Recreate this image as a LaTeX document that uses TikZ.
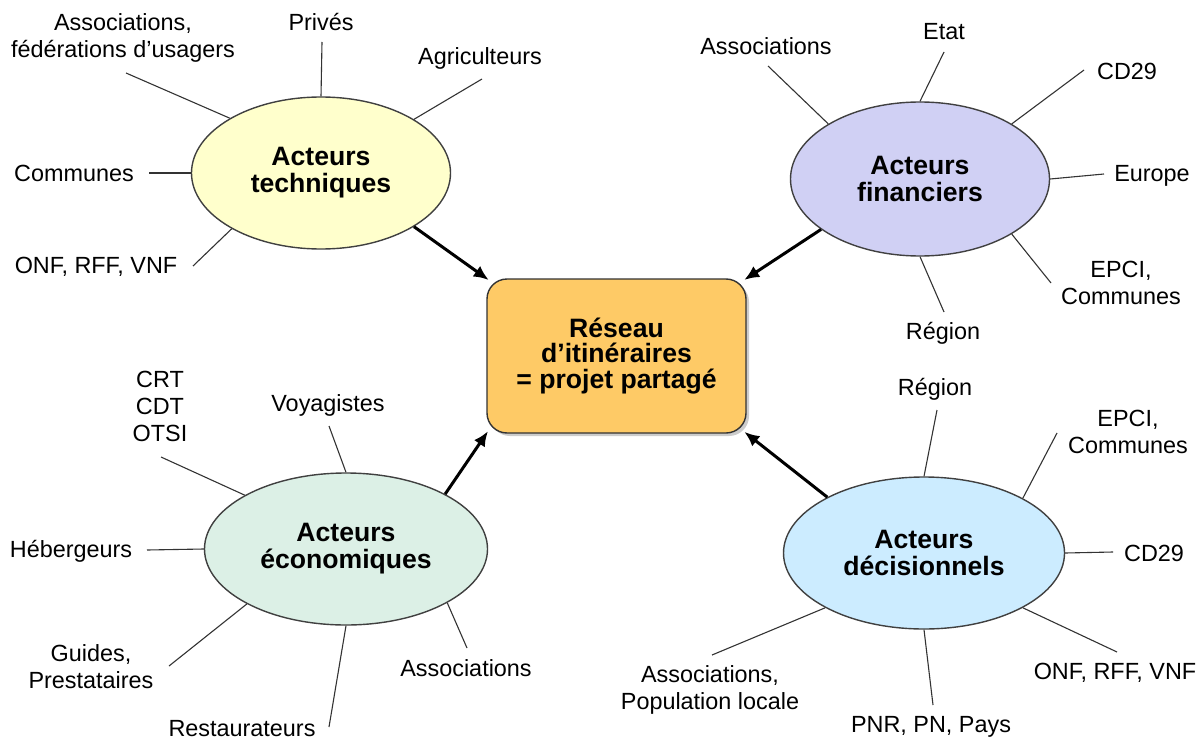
\documentclass[tikz,border=0pt]{standalone}
\usepackage{fontspec}
\setmainfont{Liberation Sans}
\usetikzlibrary{shapes.geometric,shadows,arrows.meta}

\definecolor{techfill}{RGB}{255,255,204}
\definecolor{finfill}{RGB}{208,208,244}
\definecolor{ecofill}{RGB}{220,240,230}
\definecolor{decfill}{RGB}{204,236,255}
\definecolor{boxfill}{RGB}{254,202,102}
\definecolor{linecol}{RGB}{51,51,51}

\tikzset{
  acteur/.style={ellipse, draw=black!75, line width=0.7pt, inner sep=0pt,
    font=\fontsize{13.3}{13.5}\selectfont\bfseries, align=center},
  projet/.style={rectangle, rounded corners=10pt, draw=black!80, line width=0.7pt,
    fill=boxfill, minimum width=129.5pt, minimum height=77pt, align=center,
    font=\fontsize{13.3}{12.8}\selectfont\bfseries,
    drop shadow={shadow xshift=1.5pt, shadow yshift=-1.5pt, fill=black!40}},
  lbl/.style={font=\fontsize{11.7}{13.5}\selectfont, align=center, inner sep=0pt},
  spoke/.style={draw=linecol, line width=0.55pt},
  arr/.style={-{Latex[length=7.5pt,width=6.5pt]}, line width=1.5pt, shorten >=-1.5pt},
}

\begin{document}
\begin{tikzpicture}[x=0.5pt,y=-0.5pt]
  \useasboundingbox (0,0) rectangle (1202,743);
%%
  % Node: reseau
  \node[projet] (reseau) at (616.5,356) {Réseau\\d’itinéraires\\= projet partagé};
  % Node: tech
  \node[acteur, fill=techfill, minimum width=129.5pt, minimum height=76pt] (tech) at (321,173) {Acteurs\\techniques};
  % Node: fin
  \node[acteur, fill=finfill, minimum width=129.5pt, minimum height=77pt] (fin) at (920,179) {Acteurs\\financiers};
  % Node: eco
  \node[acteur, fill=ecofill, minimum width=141.5pt, minimum height=76pt] (eco) at (346,549) {Acteurs\\économiques};
  % Node: dec
  \node[acteur, fill=decfill, minimum width=140.5pt, minimum height=76pt] (dec) at (924,553) {Acteurs\\décisionnels};
%
  % Labels: tech
  \node[lbl] (t-assoc) at (123,38) {Associations,\\fédérations d’usagers};
  \node[lbl] (t-prives) at (321,22) {Privés};
  \node[lbl] (t-agri) at (480,58) {Agriculteurs};
  \node[lbl] (t-comm) at (74,173) {Communes};
  \node[lbl] (t-onf) at (96,267) {ONF, RFF, VNF};
  \coordinate (t1) at (126,73);
  \coordinate (t2) at (322,42);
  \coordinate (t3) at (482,79);
  \coordinate (t4) at (149,173);
  \coordinate (t5) at (193,266);
  % Edge: t -> tech
  \draw[spoke] (t1) -- (tech.149);
  \draw[spoke] (t2) -- (tech.90);
  \draw[spoke] (t3) -- (tech.30);
  \draw[spoke] (t4) -- (tech.180);
  \draw[spoke] (t5) -- (tech.212);
%
  % Labels: fin
  \node[lbl] (f-assoc) at (766,46) {Associations};
  \node[lbl] (f-etat) at (944,32) {Etat};
  \node[lbl] (f-cd) at (1127,71) {CD29};
  \node[lbl] (f-europe) at (1152,176) {Europe};
  \node[lbl] (f-epci) at (1121,283) {EPCI,\\Communes};
  \node[lbl] (f-region) at (943,333) {Région};
  \coordinate (f1) at (768,66);
  \coordinate (f2) at (944,52);
  \coordinate (f3) at (1084,70);
  \coordinate (f4) at (1104,174);
  \coordinate (f5) at (1051,283);
  \coordinate (f6) at (944,312);
  % Edge: f -> fin
  \draw[spoke] (f1) -- (fin.149);
  \draw[spoke] (f2) -- (fin.90);
  \draw[spoke] (f3) -- (fin.31);
  \draw[spoke] (f4) -- (fin.0);
  \draw[spoke] (f5) -- (fin.-31);
  \draw[spoke] (f6) -- (fin.270);
%
  % Labels: eco
  \node[lbl] (e-crt) at (160,406) {CRT\\CDT\\OTSI};
  \node[lbl] (e-voy) at (328,405) {Voyagistes};
  \node[lbl] (e-heb) at (71,551) {Hébergeurs};
  \node[lbl] (e-guides) at (91,667) {Guides,\\Prestataires};
  \node[lbl] (e-resto) at (242,729) {Restaurateurs};
  \node[lbl] (e-assoc) at (466,668) {Associations};
  \coordinate (e1) at (161,457);
  \coordinate (e2) at (329,426);
  \coordinate (e3) at (147,550);
  \coordinate (e4) at (169,666);
  \coordinate (e5) at (329,727);
  \coordinate (e6) at (467,648);
  % Edge: e -> eco
  \draw[spoke] (e1) -- (eco.152);
  \draw[spoke] (e2) -- (eco.90);
  \draw[spoke] (e3) -- (eco.180);
  \draw[spoke] (e4) -- (eco.209);
  \draw[spoke] (e5) -- (eco.270);
  \draw[spoke] (e6) -- (eco.-28);
%
  % Labels: dec
  \node[lbl] (d-region) at (935,389) {Région};
  \node[lbl] (d-epci) at (1128,432) {EPCI,\\Communes};
  \node[lbl] (d-cd) at (1154,553) {CD29};
  \node[lbl] (d-onf) at (1115,673) {ONF, RFF, VNF};
  \node[lbl] (d-pnr) at (931,727) {PNR, PN, Pays};
  \node[lbl] (d-assoc) at (710,690) {Associations,\\Population locale};
  \coordinate (d1) at (937,410);
  \coordinate (d2) at (1057,433);
  \coordinate (d3) at (1113,552);
  \coordinate (d4) at (1117,652);
  \coordinate (d5) at (933,705);
  \coordinate (d6) at (712,655);
  % Edge: d -> dec
  \draw[spoke] (d1) -- (dec.90);
  \draw[spoke] (d2) -- (dec.29);
  \draw[spoke] (d3) -- (dec.0);
  \draw[spoke] (d4) -- (dec.-29);
  \draw[spoke] (d5) -- (dec.270);
  \draw[spoke] (d6) -- (dec.209);
%
  % Edge: acteurs -> reseau
  \draw[arr] (tech.-30) -- (reseau.north west);
  \draw[arr] (fin.207) -- (reseau.north east);
  \draw[arr] (eco.29) -- (reseau.south west);
  \draw[arr] (dec.150) -- (reseau.south east);
%
\end{tikzpicture}
\end{document}
